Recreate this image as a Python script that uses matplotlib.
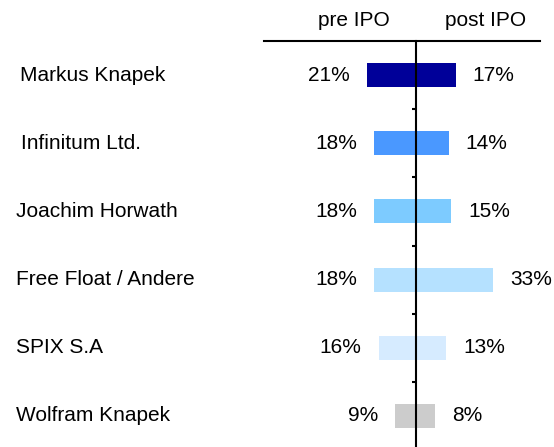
import matplotlib
matplotlib.use('Agg')
import matplotlib.pyplot as plt
import matplotlib.transforms as mtransforms

names = ['Markus Knapek', 'Infinitum Ltd.', 'Joachim Horwath',
         'Free Float / Andere', 'SPIX S.A', 'Wolfram Knapek']
pre_ipo = [21, 18, 18, 18, 16, 9]
post_ipo = [17, 14, 15, 33, 13, 8]
colors = ['#000099', '#4a98ff', '#7dcbff', '#b5e1ff', '#d6ebff', '#cccccc']
# left edge of each name label, in pixels (not quite aligned in the original)
label_x = [20, 21, 16, 16, 16, 16]


def main():
    plt.rcParams['font.family'] = ['Liberation Sans', 'DejaVu Sans']
    fig = plt.figure(figsize=(5.54, 4.47), dpi=100)
    W, H = 554, 447
    # axes box in pixels: x 264..540, y 41..450 (from top)
    ax = fig.add_axes([264 / W, (H - 450) / H, (540 - 264) / W, (450 - 41) / H])

    ypos = list(range(len(names)))
    ax.barh(ypos, [-v for v in pre_ipo], height=0.35, color=colors)
    ax.barh(ypos, post_ipo, height=0.35, color=colors)

    ax.set_xlim(-65.2, 53.2)
    ax.set_ylim(len(names) - 0.5, -0.5)

    for s in ['right', 'bottom']:
        ax.spines[s].set_visible(False)
    ax.spines['top'].set_linewidth(1.5)
    ax.spines['left'].set_position(('data', 0))
    ax.spines['left'].set_linewidth(1.5)
    ax.set_xticks([])
    ax.set_yticks([i + 0.5 for i in range(len(names) - 1)])
    ax.set_yticklabels([])
    ax.tick_params(axis='y', direction='out', length=3, width=1.5)

    for i in ypos:
        ax.annotate(f'{pre_ipo[i]}%', (-pre_ipo[i], i), xytext=(-17, 0),
                    textcoords='offset pixels', ha='right', va='center',
                    fontsize=15)
        ax.annotate(f'{post_ipo[i]}%', (post_ipo[i], i), xytext=(17, 0),
                    textcoords='offset pixels', ha='left', va='center',
                    fontsize=15)

    trans = mtransforms.blended_transform_factory(fig.transFigure, ax.transData)
    for i, n in enumerate(names):
        ax.text(label_x[i] / W, i, n, transform=trans, ha='left', va='center',
                fontsize=15)

    fig.text(354 / W, (H - 26) / H, 'pre IPO', ha='center', va='baseline', fontsize=15)
    fig.text(486 / W, (H - 26) / H, 'post IPO', ha='center', va='baseline', fontsize=15)

    fig.savefig('out.png', dpi=100)


if __name__ == "__main__":
    main()
